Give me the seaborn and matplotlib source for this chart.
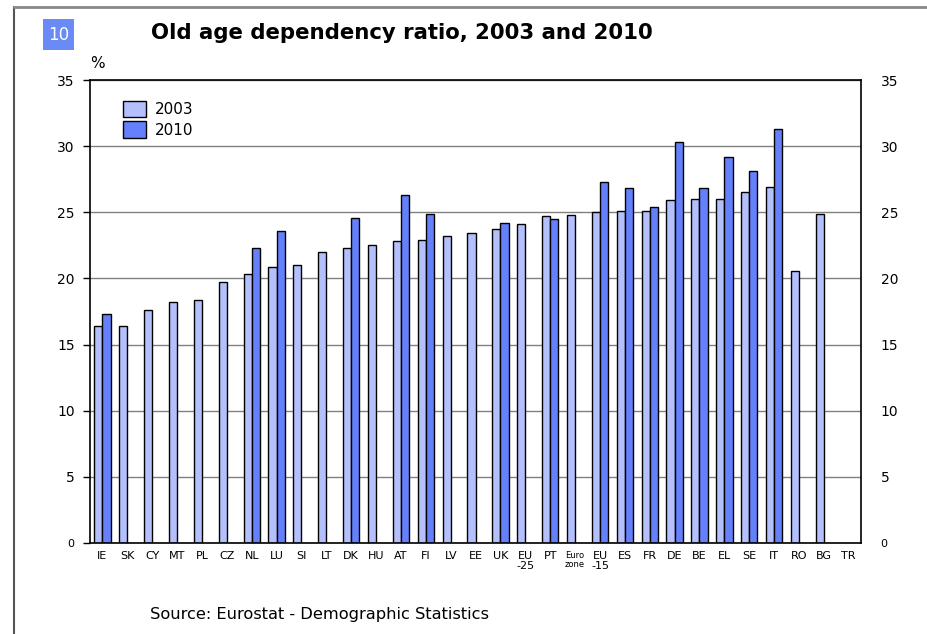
import matplotlib
matplotlib.use('Agg')
import matplotlib.pyplot as plt
import numpy as np
import pandas as pd
import seaborn as sns
from matplotlib.lines import Line2D
from matplotlib.patches import Rectangle

# Data
countries = ['IE', 'SK', 'CY', 'MT', 'PL', 'CZ', 'NL', 'LU', 'SI', 'LT', 'DK', 'HU',
             'AT', 'FI', 'LV', 'EE', 'UK', 'EU-25', 'PT', 'Euro zone', 'EU-15', 'ES',
             'FR', 'DE', 'BE', 'EL', 'SE', 'IT', 'RO', 'BG', 'TR']
tick_labels = ['IE', 'SK', 'CY', 'MT', 'PL', 'CZ', 'NL', 'LU', 'SI', 'LT', 'DK', 'HU',
               'AT', 'FI', 'LV', 'EE', 'UK', 'EU\n-25', 'PT', 'Euro\nzone', 'EU\n-15', 'ES',
               'FR', 'DE', 'BE', 'EL', 'SE', 'IT', 'RO', 'BG', 'TR']
ratio_2003 = [16.4, 16.4, 17.6, 18.2, 18.4, 19.7, 20.3, 20.9, 21.0, 22.0, 22.3, 22.5,
              22.8, 22.9, 23.2, 23.4, 23.7, 24.1, 24.7, 24.8, 25.0, 25.1,
              25.1, 25.9, 26.0, 26.0, 26.5, 26.9, 20.6, 24.9, np.nan]
ratio_2010 = [17.3, np.nan, np.nan, np.nan, np.nan, np.nan, 22.3, 23.6, np.nan, np.nan, 24.6, np.nan,
              26.3, 24.9, np.nan, np.nan, 24.2, np.nan, 24.5, np.nan, 27.3, 26.8,
              25.4, 30.3, 26.8, 29.2, 28.1, 31.3, np.nan, np.nan, np.nan]
years = ['2003', '2010']
colors = ['#b4c0fc', '#6480fa']

df = pd.DataFrame({
    'country': countries * 2,
    'year': [years[0]] * len(countries) + [years[1]] * len(countries),
    'value': ratio_2003 + ratio_2010,
}).dropna()

sns.set_style('white')
plt.rcParams['font.family'] = ['DejaVu Sans']
plt.rcParams['text.color'] = 'black'
plt.rcParams['xtick.color'] = 'black'
plt.rcParams['ytick.color'] = 'black'

fig = plt.figure(figsize=(9.28, 6.34), dpi=100)
ax = fig.add_axes([0.097, 0.1435, 0.831, 0.7303])

sns.barplot(data=df, x='country', y='value', hue='year', order=countries,
            hue_order=years, palette=colors, saturation=1, width=0.66, edgecolor='black',
            linewidth=1.0, errorbar=None, ax=ax)

ax.set_ylim(0, 35)
ax.set_xlim(-0.5, len(countries) - 0.5)
ax.set_yticks(range(0, 36, 5))
ax.set_yticklabels([str(v) for v in range(0, 36, 5)], fontsize=10)
ax.get_yticklabels()[0].set_fontsize(8)
ax.set_xticks(range(len(countries)))
ax.set_xticklabels(tick_labels, fontsize=8, linespacing=0.9)
ax.get_xticklabels()[countries.index('Euro zone')].set_fontsize(6)
ax.set_xticks(np.arange(-0.5, len(countries), 1), minor=True)
ax.tick_params(axis='x', which='major', length=0, pad=6)
ax.tick_params(axis='x', which='minor', length=4, width=1, direction='out', color='black')
ax.tick_params(axis='y', length=5, width=1, direction='out', color='black', pad=6, left=True)
ax.set_xlabel('')
ax.set_ylabel('')
ax.yaxis.grid(True, color='#808080', linewidth=1)
ax.set_axisbelow(True)
for s in ax.spines.values():
    s.set_color('black')
    s.set_linewidth(1.2)

# right-hand copy of the value axis
ax2 = ax.twinx()
ax2.set_ylim(0, 35)
ax2.set_yticks(range(0, 36, 5))
ax2.set_yticklabels([str(v) for v in range(0, 36, 5)], fontsize=10)
ax2.get_yticklabels()[0].set_fontsize(8)
ax2.tick_params(axis='y', length=0, pad=14)
for s in ax2.spines.values():
    s.set_visible(False)

handles = [Rectangle((0, 0), 1, 1, facecolor=c, edgecolor='black', linewidth=1) for c in colors]
ax.legend(handles, years, loc='upper left', bbox_to_anchor=(0.025, 0.985), frameon=False,
          fontsize=11, handlelength=1.5, handleheight=1.3, labelspacing=0.25, handletextpad=0.6)

ax.text(0.0, 1.02, '%', transform=ax.transAxes, fontsize=11, ha='left', va='bottom')

fig.text(402 / 928, 1 - 33 / 634, 'Old age dependency ratio, 2003 and 2010',
         fontsize=15.3, fontweight='bold', ha='center', va='center')
fig.text(150 / 928, 1 - 615 / 634, 'Source: Eurostat - Demographic Statistics',
         fontsize=11.7, ha='left', va='center')

# chapter number badge
fig.patches.append(Rectangle((43 / 928, 1 - 50 / 634), 31 / 928, 31 / 634,
                             transform=fig.transFigure, facecolor='#6a8af5', edgecolor='none'))
fig.text(58.5 / 928, 1 - 34.5 / 634, '10', color='white', fontsize=12, ha='center', va='center')

# page frame lines
fig.lines.append(Line2D([14.5 / 928, 14.5 / 928], [0, 1 - 7 / 634], transform=fig.transFigure,
                        color='#555555', linewidth=1.5))
fig.lines.append(Line2D([14.5 / 928, 1], [1 - 7 / 634, 1 - 7 / 634], transform=fig.transFigure,
                        color='#888888', linewidth=2))

fig.savefig('out.png', dpi=100)
